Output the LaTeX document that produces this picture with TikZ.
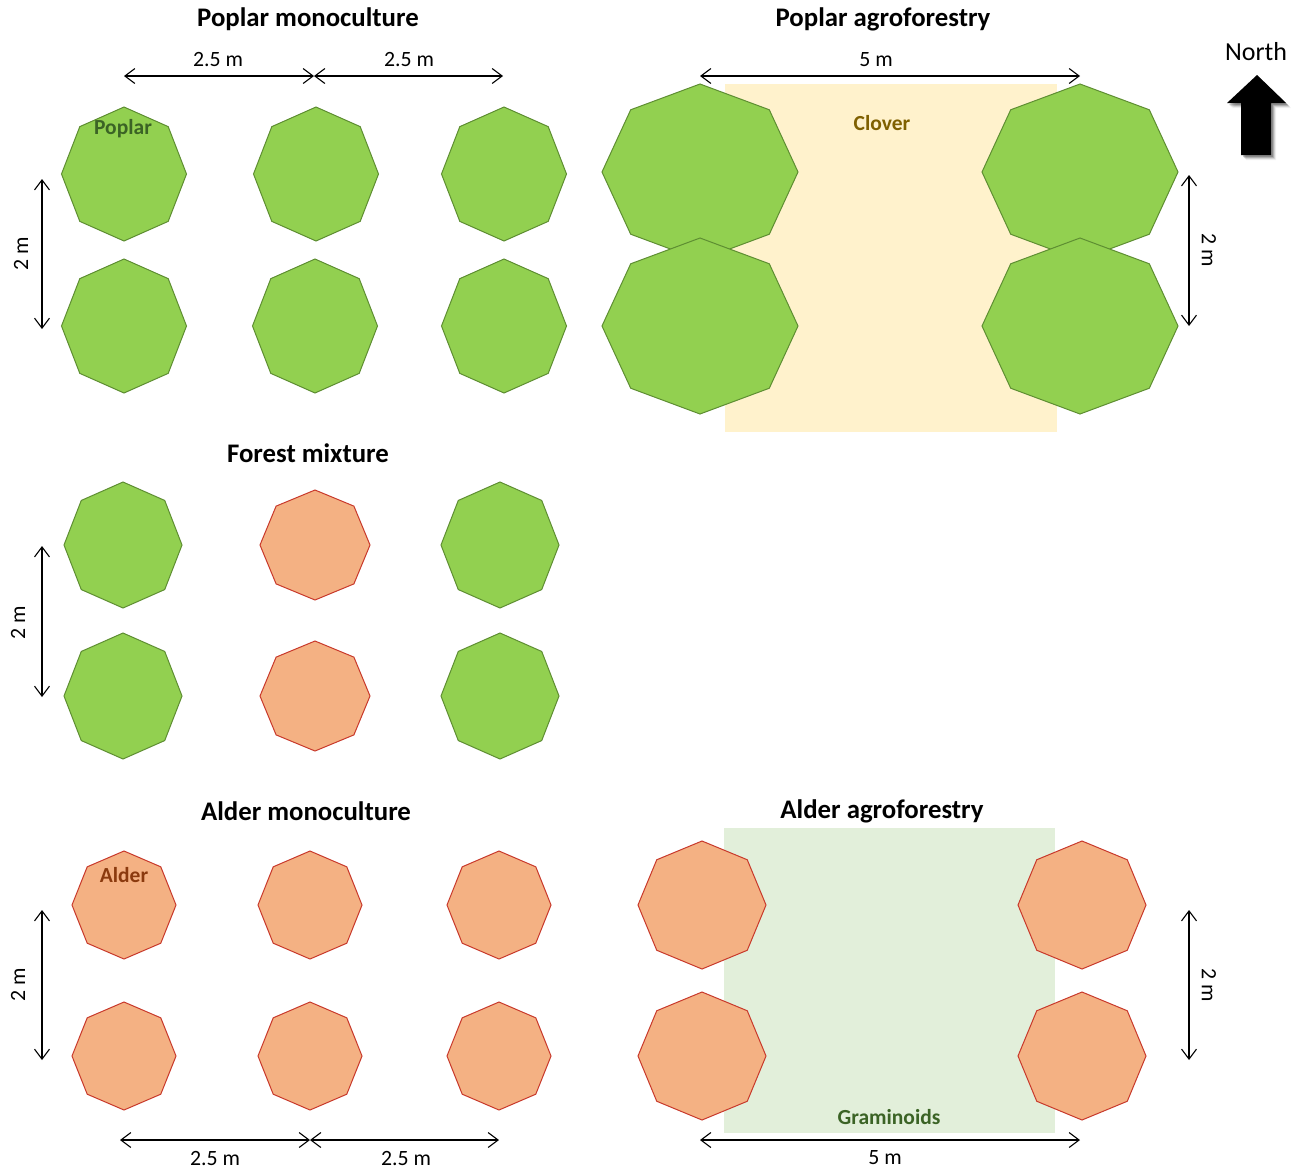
\documentclass[tikz,border=0pt]{standalone}
\usepackage{fontspec}
\setmainfont{Carlito}
\usetikzlibrary{arrows.meta,calc}
\definecolor{pgreen}{HTML}{92D050}
\definecolor{pgreenline}{HTML}{5E8E32}
\definecolor{aorange}{HTML}{F4B183}
\definecolor{aorangeline}{HTML}{C8392B}
\definecolor{clover}{HTML}{FFF2CC}
\definecolor{grass}{HTML}{E2EFDA}
\definecolor{clovertext}{HTML}{7F6000}
\definecolor{greentext}{HTML}{3B6325}
\definecolor{aldertext}{HTML}{8B3A0E}
\tikzset{
  poplar/.style={fill=pgreen,draw=pgreenline,line width=1pt,line join=miter},
  alder/.style={fill=aorange,draw=aorangeline,line width=1pt,line join=miter},
  dimline/.style={{Straight Barb[length=10pt,width=15pt]}-{Straight Barb[length=10pt,width=15pt]},line width=1.1pt},
  titletext/.style={font=\fontsize{26.8}{30}\selectfont\bfseries,inner sep=0pt},
  dimtext/.style={font=\fontsize{21.8}{24}\selectfont,inner sep=0pt},
  labeltext/.style={font=\fontsize{21.5}{24}\selectfont\bfseries,inner sep=0pt},
}
\newcommand\octa[5]{\draw[#1,shift={(#2,#3)}] (0:#4 and #5) -- (45:#4 and #5) -- (90:#4 and #5) -- (135:#4 and #5) -- (180:#4 and #5) -- (225:#4 and #5) -- (270:#4 and #5) -- (315:#4 and #5) -- cycle;}
\begin{document}
\begin{tikzpicture}[x=1pt,y=-1pt]
\useasboundingbox (0,0) rectangle (1295,1168);
\fill[white] (0,0) rectangle (1295,1168);

% ---------- Poplar monoculture ----------
\node[titletext] (t1) at (308,19) {Poplar monoculture};
\foreach \cx/\cy in {124/174,316/174,504/174,124/326,315/326,504/326}{\octa{poplar}{\cx}{\cy}{62.5}{67}}
\node[labeltext,text=greentext] (lpoplar) at (123,129) {Poplar};
\coordinate (pm1) at (124,76); \coordinate (pm2) at (314,76); \coordinate (pm3) at (503,76);
\draw[dimline] (pm1) -- (pm2);
\draw[dimline] (pm2) -- (pm3);
\node[dimtext] (pmd1) at (218,60) {2.5 m};
\node[dimtext] (pmd2) at (409,60) {2.5 m};
\coordinate (pv1) at (42,179); \coordinate (pv2) at (42,329);
\draw[dimline] (pv1) -- (pv2);
\node[dimtext,rotate=90] (pmv) at (21,254) {2 m};

% ---------- Poplar agroforestry ----------
\node[titletext] (t2) at (883,19) {Poplar agroforestry};
\fill[clover] (725,84) rectangle (1057,432);
\node[labeltext,text=clovertext] (lclover) at (882,123) {Clover};
\foreach \cx/\cy in {700/172,1080/172,700/326,1080/326}{\octa{poplar}{\cx}{\cy}{98}{88}}
\coordinate (pa1) at (700,76); \coordinate (pa2) at (1080,76);
\draw[dimline] (pa1) -- (pa2);
\node[dimtext] (pad) at (876,60) {5 m};
\coordinate (pav1) at (1189,175); \coordinate (pav2) at (1189,326);
\draw[dimline] (pav1) -- (pav2);
\node[dimtext,rotate=-90] (pav) at (1209,250) {2 m};

% ---------- North ----------
\node[font=\fontsize{26}{30}\selectfont,inner sep=0pt] (north) at (1256,52) {North};
\foreach \o/\s in {5/0.06,4/0.10,3/0.16,2/0.22}{
  \fill[black,opacity=\s,shift={(\o,\o)}] (1257,75) -- (1286,103) -- (1271,103) -- (1271,155) -- (1241,155) -- (1241,103) -- (1227,103) -- cycle;}
\fill[black] (1257,75) -- (1286,103) -- (1271,103) -- (1271,155) -- (1241,155) -- (1241,103) -- (1227,103) -- cycle;

% ---------- Forest mixture ----------
\node[titletext] (t3) at (308,453) {Forest mixture};
\foreach \cx/\cy in {123/545,500/545,123/696,500/696}{\octa{poplar}{\cx}{\cy}{59}{63}}
\foreach \cx/\cy in {315/545,315/696}{\octa{alder}{\cx}{\cy}{55}{55}}
\coordinate (fv1) at (42,546); \coordinate (fv2) at (42,697);
\draw[dimline] (fv1) -- (fv2);
\node[dimtext,rotate=90] (fmv) at (18,623) {2 m};

% ---------- Alder monoculture ----------
\node[titletext] (t4) at (306,811) {Alder monoculture};
\foreach \cx/\cy in {124/905,310/905,499/905,124/1056,310/1056,499/1056}{\octa{alder}{\cx}{\cy}{52}{54}}
\node[labeltext,text=aldertext] (lalder) at (124,875) {Alder};
\coordinate (av1) at (42,910); \coordinate (av2) at (42,1060);
\draw[dimline] (av1) -- (av2);
\node[dimtext,rotate=90] (amv) at (18,985) {2 m};
\coordinate (am1) at (120,1140); \coordinate (am2) at (310,1140); \coordinate (am3) at (499,1140);
\draw[dimline] (am1) -- (am2);
\draw[dimline] (am2) -- (am3);
\node[dimtext] (amd1) at (215,1158) {2.5 m};
\node[dimtext] (amd2) at (406,1158) {2.5 m};

% ---------- Alder agroforestry ----------
\node[titletext] (t5) at (882,811) {Alder agroforestry};
\fill[grass] (724,828) rectangle (1055,1133);
\foreach \cx/\cy in {702/905,1082/905,702/1056,1082/1056}{\octa{alder}{\cx}{\cy}{64}{64}}
\node[labeltext,text=greentext] (lgram) at (889,1117) {Graminoids};
\coordinate (aav1) at (1189,910); \coordinate (aav2) at (1189,1060);
\draw[dimline] (aav1) -- (aav2);
\node[dimtext,rotate=-90] (aav) at (1209,985) {2 m};
\coordinate (aa1) at (700,1140); \coordinate (aa2) at (1080,1140);
\draw[dimline] (aa1) -- (aa2);
\node[dimtext] (aad) at (885,1158) {5 m};
\end{tikzpicture}
\end{document}
